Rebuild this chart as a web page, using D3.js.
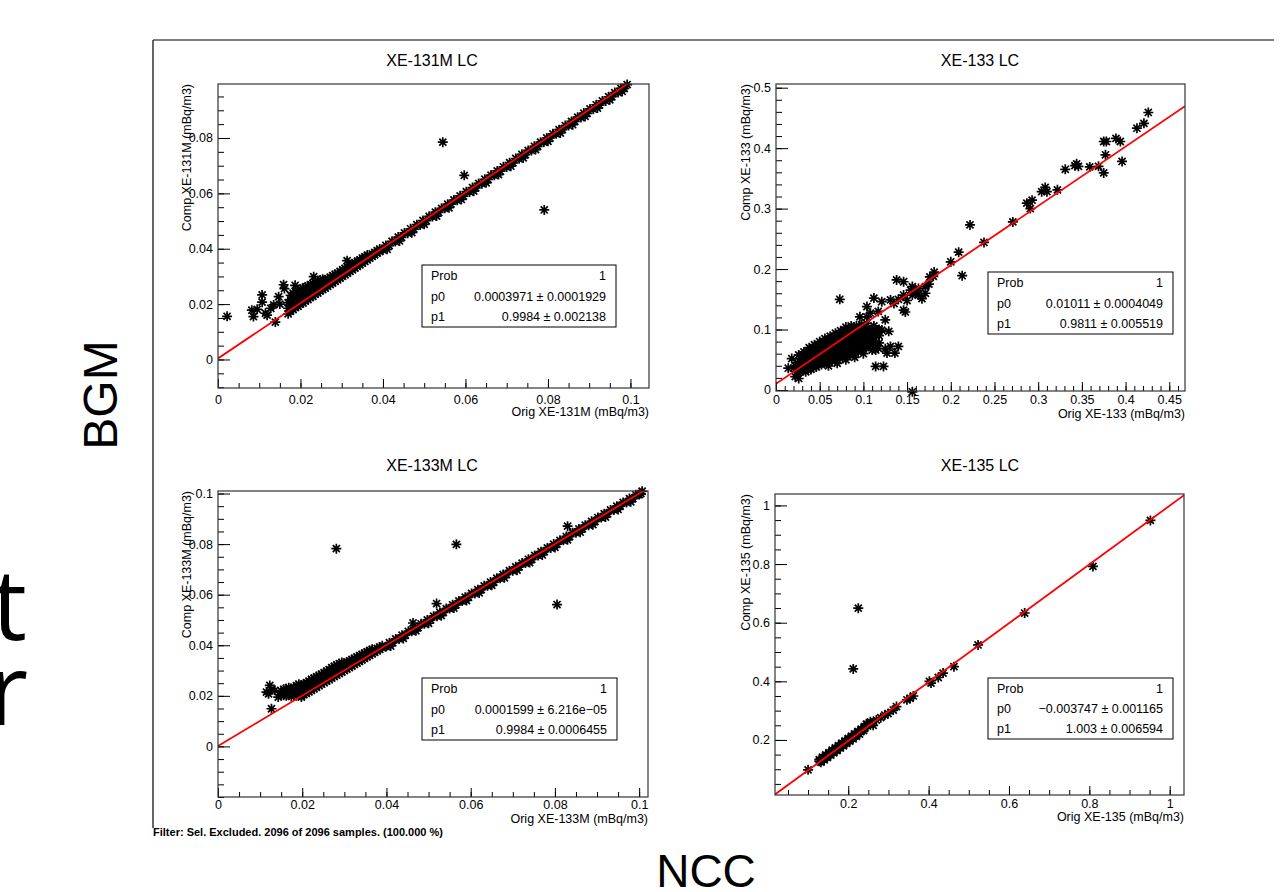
<!DOCTYPE html>
<html><head><meta charset="utf-8">
<script src="https://cdn.jsdelivr.net/npm/d3@7"></script>
<style>
body{margin:0;background:#fff}
svg{display:block}
text{font-family:"Liberation Sans",Arial,Helvetica,sans-serif;fill:#000}
</style>
</head><body>
<svg id="c" width="1284" height="892"></svg>
<script>
// ---------------- DATA ----------------
const titles = ["XE-131M LC", "XE-133 LC", "XE-133M LC", "XE-135 LC"];
const xTitles = ["Orig XE-131M (mBq/m3)", "Orig XE-133 (mBq/m3)", "Orig XE-133M (mBq/m3)", "Orig XE-135 (mBq/m3)"];
const yTitles = ["Comp XE-131M (mBq/m3)", "Comp XE-133 (mBq/m3)", "Comp XE-133M (mBq/m3)", "Comp XE-135 (mBq/m3)"];

const statNames = ["Prob", "p0", "p1"];
const xe131mStats = ["1", "0.0003971 \u00b1 0.0001929", "0.9984 \u00b1 0.002138"];
const xe133Stats  = ["1", "0.01011 \u00b1 0.0004049", "0.9811 \u00b1 0.005519"];
const xe133mStats = ["1", "0.0001599 \u00b1 6.216e\u221205", "0.9984 \u00b1 0.0006455"];
const xe135Stats  = ["1", "\u22120.003747 \u00b1 0.001165", "1.003 \u00b1 0.006594"];

// fit: [p0, p1]
const xe131mFit = [0.0003971, 0.9984];
const xe133Fit  = [0.01011, 0.9811];
const xe133mFit = [0.0001599, 0.9984];
const xe135Fit  = [-0.003747, 1.003];

const xe131mXTicks = [0, 0.02, 0.04, 0.06, 0.08, 0.1];
const xe131mXTickLabels = ["0", "0.02", "0.04", "0.06", "0.08", "0.1"];
const xe131mYTicks = [0, 0.02, 0.04, 0.06, 0.08];
const xe131mYTickLabels = ["0", "0.02", "0.04", "0.06", "0.08"];
const xe133XTicks = [0, 0.05, 0.1, 0.15, 0.2, 0.25, 0.3, 0.35, 0.4, 0.45];
const xe133XTickLabels = ["0", "0.05", "0.1", "0.15", "0.2", "0.25", "0.3", "0.35", "0.4", "0.45"];
const xe133YTicks = [0, 0.1, 0.2, 0.3, 0.4, 0.5];
const xe133YTickLabels = ["0", "0.1", "0.2", "0.3", "0.4", "0.5"];
const xe133mXTicks = [0, 0.02, 0.04, 0.06, 0.08, 0.1];
const xe133mXTickLabels = ["0", "0.02", "0.04", "0.06", "0.08", "0.1"];
const xe133mYTicks = [0, 0.02, 0.04, 0.06, 0.08, 0.1];
const xe133mYTickLabels = ["0", "0.02", "0.04", "0.06", "0.08", "0.1"];
const xe135XTicks = [0.2, 0.4, 0.6, 0.8, 1];
const xe135XTickLabels = ["0.2", "0.4", "0.6", "0.8", "1"];
const xe135YTicks = [0.2, 0.4, 0.6, 0.8, 1];
const xe135YTickLabels = ["0.2", "0.4", "0.6", "0.8", "1"];

const filterText = "Filter:  Sel. Excluded. 2096 of 2096 samples. (100.000 %)";

// points [orig, comp]
const xe131mPoints = [
[0.0022,0.0156],[0.0082,0.0178],[0.0095,0.0181],[0.0086,0.0155],[0.0107,0.0233],[0.0107,0.0207],[0.0115,0.0167],[0.0119,0.0160],
[0.0135,0.0197],[0.0147,0.0227],[0.0159,0.0270],[0.0161,0.0256],[0.0139,0.0135],[0.0187,0.0268],[0.0232,0.0299],[0.0313,0.0357],
[0.0545,0.0785],[0.0597,0.0665],[0.0791,0.0540],[0.0150,0.0200],[0.0128,0.0185],
[0.0170,0.0165],[0.0170,0.0185],[0.0170,0.0205],
[0.0182,0.0180],[0.0182,0.0200],[0.0182,0.0220],[0.0182,0.0240],
[0.0194,0.0192],[0.0194,0.0210],[0.0194,0.0228],[0.0194,0.0246],
[0.0206,0.0204],[0.0206,0.0222],[0.0206,0.0240],[0.0206,0.0258],
[0.0218,0.0216],[0.0218,0.0233],[0.0218,0.0250],[0.0218,0.0265],
[0.0230,0.0228],[0.0230,0.0244],[0.0230,0.0260],[0.0230,0.0275],
[0.0242,0.0240],[0.0242,0.0255],[0.0242,0.0270],[0.0242,0.0284],
[0.0254,0.0252],[0.0254,0.0266],[0.0254,0.0280],[0.0254,0.0290],
[0.0266,0.0264],[0.0266,0.0278],[0.0266,0.0292],
[0.0278,0.0276],[0.0278,0.0290],[0.0278,0.0303],
[0.0290,0.0288],[0.0290,0.0300],[0.0290,0.0312],
[0.0302,0.0300],[0.0302,0.0312],[0.0302,0.0324],
[0.0314,0.0312],[0.0314,0.0323],[0.0314,0.0334],
[0.0326,0.0324],[0.0326,0.0335],[0.0326,0.0344],
[0.0338,0.0336],[0.0338,0.0347],[0.0338,0.0355],
[0.0350,0.0348],[0.0350,0.0358],[0.0350,0.0366],
[0.0362,0.0360],[0.0362,0.0370],[0.0362,0.0377],
[0.0374,0.0372],[0.0374,0.0381],
[0.0386,0.0384],[0.0386,0.0393],
[0.0176,0.0175],[0.0176,0.0195],[0.0176,0.0215],[0.0176,0.0232],
[0.0188,0.0188],[0.0188,0.0207],[0.0188,0.0226],[0.0188,0.0244],
[0.0200,0.0200],[0.0200,0.0218],[0.0200,0.0236],[0.0200,0.0254],
[0.0212,0.0212],[0.0212,0.0229],[0.0212,0.0246],[0.0212,0.0262],
[0.0224,0.0224],[0.0224,0.0240],[0.0224,0.0256],[0.0224,0.0270],
[0.0236,0.0236],[0.0236,0.0251],[0.0236,0.0266],[0.0236,0.0280],
[0.0248,0.0248],[0.0248,0.0262],[0.0248,0.0276],[0.0248,0.0287],
[0.0260,0.0258],[0.0260,0.0272],[0.0260,0.0286],
[0.0272,0.0270],[0.0272,0.0284],[0.0272,0.0297],
[0.0284,0.0282],[0.0284,0.0295],[0.0284,0.0307],
[0.0296,0.0294],[0.0296,0.0306],[0.0296,0.0318],
[0.0308,0.0306],[0.0308,0.0318],[0.0308,0.0329],
[0.0320,0.0318],[0.0320,0.0329],[0.0320,0.0339],
[0.0332,0.0330],[0.0332,0.0341],[0.0332,0.0350],
[0.0344,0.0342],[0.0344,0.0352],[0.0344,0.0360],
[0.0356,0.0354],[0.0356,0.0364],[0.0356,0.0371],
[0.0368,0.0366],[0.0368,0.0375],
[0.0380,0.0378],[0.0380,0.0387],
[0.0392,0.0390],[0.0392,0.0399],
[0.0400,0.0396],[0.0415,0.0411],[0.0430,0.0426],[0.0445,0.0441],[0.0460,0.0456],[0.0475,0.0471],[0.0490,0.0486],[0.0505,0.0501],
[0.0520,0.0516],[0.0535,0.0531],[0.0550,0.0546],[0.0565,0.0561],[0.0580,0.0575],[0.0595,0.0590],[0.0610,0.0605],[0.0625,0.0620],
[0.0640,0.0635],[0.0655,0.0650],[0.0670,0.0665],[0.0685,0.0680],[0.0700,0.0695],[0.0715,0.0710],[0.0730,0.0725],[0.0745,0.0740],
[0.0760,0.0755],[0.0775,0.0770],[0.0790,0.0785],[0.0805,0.0800],[0.0820,0.0815],[0.0835,0.0830],[0.0850,0.0845],[0.0865,0.0860],
[0.0880,0.0874],[0.0895,0.0889],[0.0910,0.0904],[0.0925,0.0919],[0.0940,0.0934],[0.0955,0.0949],[0.0970,0.0964],[0.0985,0.0979],
[0.0407,0.0412],[0.0422,0.0427],[0.0437,0.0442],[0.0452,0.0457],[0.0467,0.0472],[0.0482,0.0487],[0.0497,0.0502],[0.0512,0.0517],
[0.0527,0.0532],[0.0542,0.0546],[0.0557,0.0561],[0.0572,0.0576],[0.0587,0.0591],[0.0602,0.0606],[0.0617,0.0621],[0.0632,0.0636],
[0.0647,0.0651],[0.0662,0.0666],[0.0677,0.0681],[0.0692,0.0696],[0.0707,0.0711],[0.0722,0.0726],[0.0737,0.0741],[0.0752,0.0755],
[0.0767,0.0770],[0.0782,0.0785],[0.0797,0.0800],[0.0812,0.0815],[0.0827,0.0830],[0.0842,0.0845],[0.0857,0.0860],[0.0872,0.0875],
[0.0887,0.0890],[0.0902,0.0905],[0.0917,0.0920],[0.0932,0.0934],[0.0947,0.0949],[0.0962,0.0964],[0.0977,0.0979],[0.0992,0.0993],
[0.0410,0.0398],[0.0440,0.0428],[0.0470,0.0458],[0.0500,0.0488],[0.0530,0.0518],[0.0560,0.0548],[0.0590,0.0578],[0.0620,0.0608],
[0.0650,0.0638],[0.0680,0.0668],[0.0710,0.0698],[0.0740,0.0728],[0.0770,0.0758],[0.0800,0.0788],[0.0830,0.0818],[0.0860,0.0848],
[0.0890,0.0878],[0.0920,0.0908],[0.0950,0.0938],[0.0980,0.0968]
];

const xe133Points = [
[0.426,0.459],[0.421,0.441],[0.413,0.433],[0.394,0.411],[0.389,0.416],[0.378,0.411],[0.375,0.411],[0.377,0.389],[0.375,0.359],
[0.396,0.378],[0.369,0.370],[0.359,0.369],[0.346,0.370],[0.344,0.374],[0.342,0.371],[0.331,0.365],[0.322,0.331],[0.310,0.328],
[0.308,0.335],[0.304,0.328],[0.293,0.314],[0.291,0.300],[0.287,0.309],[0.271,0.278],[0.238,0.244],[0.222,0.273],[0.213,0.189],
[0.209,0.228],[0.200,0.212],[0.181,0.195],[0.176,0.187],[0.171,0.171],[0.163,0.157],[0.156,0.171],[0.154,0.165],[0.146,0.157],
[0.138,0.182],[0.146,0.132],[0.135,0.143],[0.131,0.149],[0.127,0.061],[0.131,0.072],[0.114,0.039],[0.112,0.152],[0.116,0.099],
[0.117,0.069],[0.073,0.150],[0.156,-0.003],[0.096,0.121],[0.104,0.138],[0.014,0.036],[0.022,0.022],[0.018,0.052],[0.020,0.036],
[0.026,0.019],[0.026,0.058],
[0.121,0.146],[0.117,0.130],[0.125,0.116],[0.121,0.099],[0.129,0.097],[0.136,0.061],[0.140,0.072],[0.123,0.039],[0.114,0.066],
[0.125,0.068],[0.104,0.121],[0.108,0.127],[0.146,0.179],[0.156,0.157],[0.148,0.129],[0.163,0.168],[0.171,0.160],[0.167,0.151],
[0.140,0.150],[0.150,0.148],[0.160,0.162],[0.180,0.188],[0.175,0.175],
[0.080,0.104],[0.086,0.106],[0.092,0.106],[0.074,0.098],[0.068,0.094],[0.062,0.089],[0.056,0.085],[0.098,0.108],[0.104,0.110],
[0.050,0.080],[0.044,0.075],[0.038,0.070],[0.032,0.063],[0.025,0.045],[0.022,0.040],[0.024,0.030],
[0.060,0.040],[0.070,0.044],[0.080,0.050],[0.090,0.054],[0.100,0.060],[0.110,0.066],[0.118,0.078],[0.118,0.090],[0.118,0.100],
[0.028,0.030],[0.028,0.038],[0.028,0.046],[0.028,0.052],
[0.034,0.030],[0.034,0.038],[0.034,0.046],[0.034,0.054],[0.034,0.061],
[0.040,0.034],[0.040,0.042],[0.040,0.050],[0.040,0.058],[0.040,0.066],
[0.046,0.038],[0.046,0.046],[0.046,0.054],[0.046,0.062],[0.046,0.070],
[0.052,0.042],[0.052,0.050],[0.052,0.058],[0.052,0.066],[0.052,0.074],
[0.058,0.045],[0.058,0.053],[0.058,0.061],[0.058,0.069],[0.058,0.077],[0.058,0.081],
[0.064,0.048],[0.064,0.056],[0.064,0.064],[0.064,0.072],[0.064,0.080],[0.064,0.085],
[0.070,0.050],[0.070,0.058],[0.070,0.066],[0.070,0.074],[0.070,0.082],[0.070,0.089],
[0.076,0.053],[0.076,0.061],[0.076,0.069],[0.076,0.077],[0.076,0.085],[0.076,0.093],
[0.082,0.056],[0.082,0.064],[0.082,0.072],[0.082,0.080],[0.082,0.088],[0.082,0.096],
[0.088,0.060],[0.088,0.068],[0.088,0.076],[0.088,0.084],[0.088,0.092],[0.088,0.100],
[0.094,0.063],[0.094,0.071],[0.094,0.079],[0.094,0.087],[0.094,0.095],
[0.100,0.068],[0.100,0.076],[0.100,0.084],[0.100,0.092],[0.100,0.100],
[0.106,0.072],[0.106,0.080],[0.106,0.088],[0.106,0.096],
[0.112,0.078],[0.112,0.086],[0.112,0.094],[0.112,0.106],
[0.031,0.034],[0.031,0.042],[0.031,0.050],
[0.037,0.034],[0.037,0.042],[0.037,0.050],[0.037,0.058],
[0.043,0.038],[0.043,0.046],[0.043,0.054],[0.043,0.062],[0.043,0.068],
[0.049,0.042],[0.049,0.050],[0.049,0.058],[0.049,0.066],[0.049,0.072],
[0.055,0.046],[0.055,0.054],[0.055,0.062],[0.055,0.070],[0.055,0.077],
[0.061,0.049],[0.061,0.057],[0.061,0.065],[0.061,0.073],[0.061,0.080],
[0.067,0.052],[0.067,0.060],[0.067,0.068],[0.067,0.076],[0.067,0.084],
[0.073,0.055],[0.073,0.063],[0.073,0.071],[0.073,0.079],[0.073,0.087],
[0.079,0.058],[0.079,0.066],[0.079,0.074],[0.079,0.082],[0.079,0.090],
[0.085,0.062],[0.085,0.070],[0.085,0.078],[0.085,0.086],[0.085,0.094],
[0.091,0.066],[0.091,0.074],[0.091,0.082],[0.091,0.090],[0.091,0.098],
[0.097,0.070],[0.097,0.078],[0.097,0.086],[0.097,0.094],
[0.103,0.074],[0.103,0.082],[0.103,0.090],[0.103,0.100],
[0.109,0.080],[0.109,0.090],[0.109,0.100]
];

const xe133mPoints = [
[0.0281,0.0782],[0.0566,0.0799],[0.0519,0.0565],[0.0805,0.0561],[0.0830,0.0871],[0.0463,0.0488],[0.0127,0.0149],[0.0123,0.0241],
[0.0115,0.0215],[0.0120,0.0208],[0.0127,0.0226],[0.0143,0.0195],[0.0198,0.0195],[0.0135,0.0222],
[0.0150,0.0205],[0.0150,0.0220],
[0.0162,0.0200],[0.0162,0.0215],[0.0162,0.0228],
[0.0174,0.0198],[0.0174,0.0212],[0.0174,0.0226],
[0.0186,0.0200],[0.0186,0.0214],[0.0186,0.0228],[0.0186,0.0240],
[0.0198,0.0200],[0.0198,0.0214],[0.0198,0.0228],[0.0198,0.0242],
[0.0210,0.0210],[0.0210,0.0224],[0.0210,0.0238],[0.0210,0.0252],
[0.0222,0.0222],[0.0222,0.0236],[0.0222,0.0250],[0.0222,0.0266],
[0.0234,0.0234],[0.0234,0.0248],[0.0234,0.0262],[0.0234,0.0276],
[0.0246,0.0246],[0.0246,0.0260],[0.0246,0.0274],[0.0246,0.0286],
[0.0258,0.0258],[0.0258,0.0272],[0.0258,0.0286],[0.0258,0.0298],
[0.0270,0.0270],[0.0270,0.0284],[0.0270,0.0298],[0.0270,0.0312],
[0.0282,0.0282],[0.0282,0.0296],[0.0282,0.0310],[0.0282,0.0322],
[0.0294,0.0294],[0.0294,0.0308],[0.0294,0.0322],[0.0294,0.0332],
[0.0306,0.0306],[0.0306,0.0319],[0.0306,0.0334],
[0.0318,0.0318],[0.0318,0.0331],[0.0318,0.0344],
[0.0330,0.0330],[0.0330,0.0342],[0.0330,0.0354],
[0.0342,0.0342],[0.0342,0.0353],[0.0342,0.0364],
[0.0354,0.0354],[0.0354,0.0364],[0.0354,0.0374],
[0.0366,0.0366],[0.0366,0.0376],[0.0366,0.0384],
[0.0378,0.0378],[0.0378,0.0387],
[0.0390,0.0390],[0.0390,0.0398],
[0.0156,0.0202],[0.0156,0.0214],[0.0156,0.0226],
[0.0168,0.0205],[0.0168,0.0220],[0.0168,0.0232],
[0.0180,0.0205],[0.0180,0.0220],[0.0180,0.0234],
[0.0192,0.0206],[0.0192,0.0220],[0.0192,0.0234],[0.0192,0.0246],
[0.0204,0.0205],[0.0204,0.0219],[0.0204,0.0233],[0.0204,0.0247],
[0.0216,0.0216],[0.0216,0.0230],[0.0216,0.0244],[0.0216,0.0258],
[0.0228,0.0228],[0.0228,0.0242],[0.0228,0.0256],[0.0228,0.0270],
[0.0240,0.0240],[0.0240,0.0254],[0.0240,0.0268],[0.0240,0.0280],
[0.0252,0.0252],[0.0252,0.0266],[0.0252,0.0280],[0.0252,0.0292],
[0.0264,0.0264],[0.0264,0.0278],[0.0264,0.0292],[0.0264,0.0304],
[0.0276,0.0276],[0.0276,0.0290],[0.0276,0.0304],[0.0276,0.0316],
[0.0288,0.0288],[0.0288,0.0302],[0.0288,0.0316],[0.0288,0.0327],
[0.0300,0.0300],[0.0300,0.0313],[0.0300,0.0327],
[0.0312,0.0312],[0.0312,0.0325],[0.0312,0.0338],
[0.0324,0.0324],[0.0324,0.0336],[0.0324,0.0348],
[0.0336,0.0336],[0.0336,0.0348],[0.0336,0.0359],
[0.0348,0.0348],[0.0348,0.0359],[0.0348,0.0369],
[0.0360,0.0360],[0.0360,0.0370],[0.0360,0.0379],
[0.0372,0.0372],[0.0372,0.0382],
[0.0384,0.0384],[0.0384,0.0393],
[0.0400,0.0395],[0.0415,0.0410],[0.0430,0.0425],[0.0445,0.0440],[0.0460,0.0455],[0.0475,0.0470],[0.0490,0.0485],[0.0505,0.0500],
[0.0520,0.0515],[0.0535,0.0530],[0.0550,0.0545],[0.0565,0.0560],[0.0580,0.0575],[0.0595,0.0590],[0.0610,0.0605],[0.0625,0.0620],
[0.0640,0.0635],[0.0655,0.0650],[0.0670,0.0665],[0.0685,0.0680],[0.0700,0.0695],[0.0715,0.0710],[0.0730,0.0725],[0.0745,0.0740],
[0.0760,0.0755],[0.0775,0.0770],[0.0790,0.0785],[0.0805,0.0800],[0.0820,0.0815],[0.0835,0.0830],[0.0850,0.0845],[0.0865,0.0860],
[0.0880,0.0875],[0.0895,0.0890],[0.0910,0.0905],[0.0925,0.0920],[0.0940,0.0935],[0.0955,0.0950],[0.0970,0.0965],[0.0985,0.0980],
[0.1000,0.0996],
[0.0407,0.0410],[0.0422,0.0425],[0.0437,0.0440],[0.0452,0.0455],[0.0467,0.0470],[0.0482,0.0485],[0.0497,0.0500],[0.0512,0.0515],
[0.0527,0.0530],[0.0542,0.0545],[0.0557,0.0560],[0.0572,0.0575],[0.0587,0.0590],[0.0602,0.0605],[0.0617,0.0620],[0.0632,0.0635],
[0.0647,0.0650],[0.0662,0.0665],[0.0677,0.0680],[0.0692,0.0695],[0.0707,0.0710],[0.0722,0.0725],[0.0737,0.0740],[0.0752,0.0755],
[0.0767,0.0770],[0.0782,0.0785],[0.0797,0.0800],[0.0812,0.0815],[0.0827,0.0830],[0.0842,0.0845],[0.0857,0.0860],[0.0872,0.0875],
[0.0887,0.0890],[0.0902,0.0905],[0.0917,0.0920],[0.0932,0.0935],[0.0947,0.0950],[0.0962,0.0965],[0.0977,0.0980],[0.0992,0.0995],
[0.1007,0.1009],
[0.0410,0.0397],[0.0440,0.0427],[0.0470,0.0457],[0.0500,0.0487],[0.0530,0.0517],[0.0560,0.0547],[0.0590,0.0577],[0.0620,0.0607],
[0.0650,0.0637],[0.0680,0.0667],[0.0710,0.0697],[0.0740,0.0727],[0.0770,0.0757],[0.0800,0.0787],[0.0830,0.0817],[0.0860,0.0847],
[0.0890,0.0877],[0.0920,0.0907],[0.0950,0.0937],[0.0980,0.0967],[0.1004,0.1000]
];

const xe135Points = [
[0.128,0.133],[0.136,0.141],[0.144,0.149],[0.152,0.157],[0.160,0.165],[0.168,0.173],[0.176,0.181],[0.184,0.189],
[0.192,0.197],[0.200,0.205],[0.208,0.213],[0.216,0.221],[0.224,0.229],[0.232,0.237],[0.240,0.245],[0.248,0.253],
[0.128,0.127],[0.136,0.135],[0.144,0.143],[0.152,0.151],[0.160,0.159],[0.168,0.167],[0.176,0.175],[0.184,0.183],
[0.192,0.191],[0.200,0.199],[0.208,0.207],[0.216,0.215],[0.224,0.223],[0.232,0.231],[0.240,0.239],[0.248,0.247],
[0.132,0.124],[0.140,0.132],[0.148,0.140],[0.156,0.148],[0.164,0.156],[0.172,0.164],[0.180,0.172],[0.188,0.180],
[0.196,0.188],[0.204,0.196],[0.212,0.204],[0.220,0.212],[0.228,0.220],
[0.2249,0.6496],[0.2124,0.4424],[0.952,0.949],[0.809,0.792],[0.639,0.633],[0.523,0.524],[0.463,0.450],[0.436,0.428],
[0.424,0.413],[0.406,0.394],[0.402,0.400],[0.362,0.350],[0.354,0.342],[0.346,0.337],[0.320,0.314],[0.312,0.302],
[0.299,0.290],[0.291,0.285],[0.281,0.276],[0.259,0.258],[0.255,0.262],[0.262,0.250],[0.270,0.268],[0.100,0.098],
[0.245,0.254],[0.238,0.232]
];

// ---------------- DRAW ----------------
const svg = d3.select("#c");
const FONT = '"Liberation Sans", Arial, Helvetica, sans-serif';

svg.append("line").attr("x1",153).attr("y1",40).attr("x2",1274).attr("y2",40).attr("stroke","#555").attr("stroke-width",1.5);
svg.append("line").attr("x1",153).attr("y1",40).attr("x2",153).attr("y2",828).attr("stroke","#333").attr("stroke-width",1.5);

const panels = [
  {title:titles[0], pts:xe131mPoints, fit:xe131mFit, stats:xe131mStats, xt:xTitles[0], yt:yTitles[0],
   xTicks:xe131mXTicks, xLab:xe131mXTickLabels, yTicks:xe131mYTicks, yLab:xe131mYTickLabels,
   xMinor:0.005, yMinor:0.005, frame:[218,84,649,388], xDom:[0,0.1045], yDom:[-0.0103,0.0995],
   box:[422,265,616,327], tpos:[432,60], ytx:186, xty:411, xpad:7},
  {title:titles[1], pts:xe133Points, fit:xe133Fit, stats:xe133Stats, xt:xTitles[1], yt:yTitles[1],
   xTicks:xe133XTicks, xLab:xe133XTickLabels, yTicks:xe133YTicks, yLab:xe133YTickLabels,
   xMinor:0.01, yMinor:0.02, frame:[776,84,1185,391], xDom:[0,0.468], yDom:[-0.0017,0.5061],
   box:[988,272,1173,334], tpos:[980,60], ytx:745, xty:413, xpad:4},
  {title:titles[2], pts:xe133mPoints, fit:xe133mFit, stats:xe133mStats, xt:xTitles[2], yt:yTitles[2],
   xTicks:xe133mXTicks, xLab:xe133mXTickLabels, yTicks:xe133mYTicks, yLab:xe133mYTickLabels,
   xMinor:0.005, yMinor:0.005, frame:[218,491,648,797], xDom:[0,0.1021], yDom:[-0.02,0.101],
   box:[422,678,617,740], tpos:[432,465], ytx:186, xty:818, xpad:3},
  {title:titles[3], pts:xe135Points, fit:xe135Fit, stats:xe135Stats, xt:xTitles[3], yt:yTitles[3],
   xTicks:xe135XTicks, xLab:xe135XTickLabels, yTicks:xe135YTicks, yLab:xe135YTickLabels,
   xMinor:0.05, yMinor:0.05, frame:[775,494,1184,795], xDom:[0.0177,1.0356], yDom:[0.0122,1.039],
   box:[988,678,1173,739], tpos:[980,465], ytx:745, xty:816, xpad:4}
];

const R = 5, K = R*0.7071;
const starPath = `M${-R},0H${R}M0,${-R}V${R}M${-K},${-K}L${K},${K}M${-K},${K}L${K},${-K}`;

function minorValues(dom, step){
  const out=[]; const s=Math.ceil(dom[0]/step-1e-9), e=Math.floor(dom[1]/step+1e-9);
  for(let i=s;i<=e;i++) out.push(+(i*step).toFixed(6));
  return out;
}

panels.forEach((p,pi)=>{
  const [fx0,fy0,fx1,fy1]=p.frame;
  const x=d3.scaleLinear().domain(p.xDom).range([fx0,fx1]);
  const y=d3.scaleLinear().domain(p.yDom).range([fy1,fy0]);
  const g=svg.append("g");

  g.append("text").attr("x",p.tpos[0]).attr("y",p.tpos[1]).attr("dy","0.36em")
    .attr("text-anchor","middle").style("font-size","16px").text(p.title);

  g.append("rect").attr("x",fx0).attr("y",fy0).attr("width",fx1-fx0).attr("height",fy1-fy0)
    .attr("fill","#fff");

  const clipId="clip"+pi;
  g.append("clipPath").attr("id",clipId).append("rect")
    .attr("x",fx0).attr("y",fy0).attr("width",fx1-fx0).attr("height",fy1-fy0);

  g.append("g").selectAll("path").data(p.pts).join("path")
    .attr("transform",d=>`translate(${x(d[0])},${y(d[1])})`)
    .attr("d",starPath).attr("stroke","#000").attr("stroke-width",1.7).attr("fill","none");

  const xs=[p.xDom[0],p.xDom[1]];
  g.append("line").attr("clip-path",`url(#${clipId})`)
    .attr("x1",x(xs[0])).attr("y1",y(p.fit[0]+p.fit[1]*xs[0]))
    .attr("x2",x(xs[1])).attr("y2",y(p.fit[0]+p.fit[1]*xs[1]))
    .attr("stroke","#ff0000").attr("stroke-width",1.8);

  const gxMin=g.append("g").attr("transform",`translate(0,${fy1})`)
    .call(d3.axisBottom(x).tickValues(minorValues(p.xDom,p.xMinor)).tickSize(-5).tickFormat(""));
  const gx=g.append("g").attr("transform",`translate(0,${fy1})`)
    .call(d3.axisBottom(x).tickValues(p.xTicks).tickSize(-9).tickPadding(p.xpad).tickFormat((d,i)=>p.xLab[i]));
  const gyMin=g.append("g").attr("transform",`translate(${fx0},0)`)
    .call(d3.axisLeft(y).tickValues(minorValues(p.yDom,p.yMinor)).tickSize(-6).tickFormat(""));
  const gy=g.append("g").attr("transform",`translate(${fx0},0)`)
    .call(d3.axisLeft(y).tickValues(p.yTicks).tickSize(-12).tickPadding(5).tickFormat((d,i)=>p.yLab[i]));
  [gxMin,gx,gyMin,gy].forEach(a=>{
    a.select(".domain").remove();
    a.attr("font-family",FONT).attr("font-size",12.5);
    a.selectAll("line").attr("stroke","#000").attr("stroke-width",1);
    a.selectAll("text").attr("fill","#000");
  });

  g.append("rect").attr("x",fx0).attr("y",fy0).attr("width",fx1-fx0).attr("height",fy1-fy0)
    .attr("fill","none").attr("stroke","#333").attr("stroke-width",1.2);

  g.append("text").attr("x",fx1).attr("y",p.xty).attr("dy","0.36em").attr("text-anchor","end")
    .style("font-size","12.5px").text(p.xt);
  g.append("text").attr("transform",`translate(${p.ytx},${fy0}) rotate(-90)`).attr("dy","0.36em")
    .attr("text-anchor","end").style("font-size","12.5px").text(p.yt);

  const [bx0,by0,bx1,by1]=p.box;
  g.append("rect").attr("x",bx0).attr("y",by0).attr("width",bx1-bx0).attr("height",by1-by0)
    .attr("fill","#fff").attr("stroke","#000").attr("stroke-width",1);
  const rowH=(by1-by0)/3;
  statNames.forEach((n,i)=>{
    const cy=by0+rowH*(i+0.5);
    g.append("text").attr("x",bx0+9).attr("y",cy).attr("dy","0.36em").style("font-size","12.5px").text(n);
    g.append("text").attr("x",bx1-10).attr("y",cy).attr("dy","0.36em").attr("text-anchor","end")
      .style("font-size","12.5px").text(p.stats[i]);
  });
});

svg.append("text").attr("x",153).attr("y",836).attr("textLength",290).attr("lengthAdjust","spacingAndGlyphs")
  .style("font-size","11px").style("font-weight","bold").text(filterText);

svg.append("text").attr("transform","translate(100,395) rotate(-90)").attr("dy","0.36em")
  .attr("text-anchor","middle").style("font-size","48px").text("BGM");
svg.append("text").attr("x",706).attr("y",887).attr("text-anchor","middle")
  .style("font-size","46px").text("NCC");
svg.append("text").attr("x",27).attr("y",640).attr("text-anchor","end")
  .style("font-family",'"Open Sans", "Noto Sans", sans-serif').style("font-size","98px").text("t");
svg.append("text").attr("x",28).attr("y",725).attr("text-anchor","end")
  .style("font-family",'"Open Sans", "Noto Sans", sans-serif').style("font-size","98px").text("r");
</script>
</body></html>
